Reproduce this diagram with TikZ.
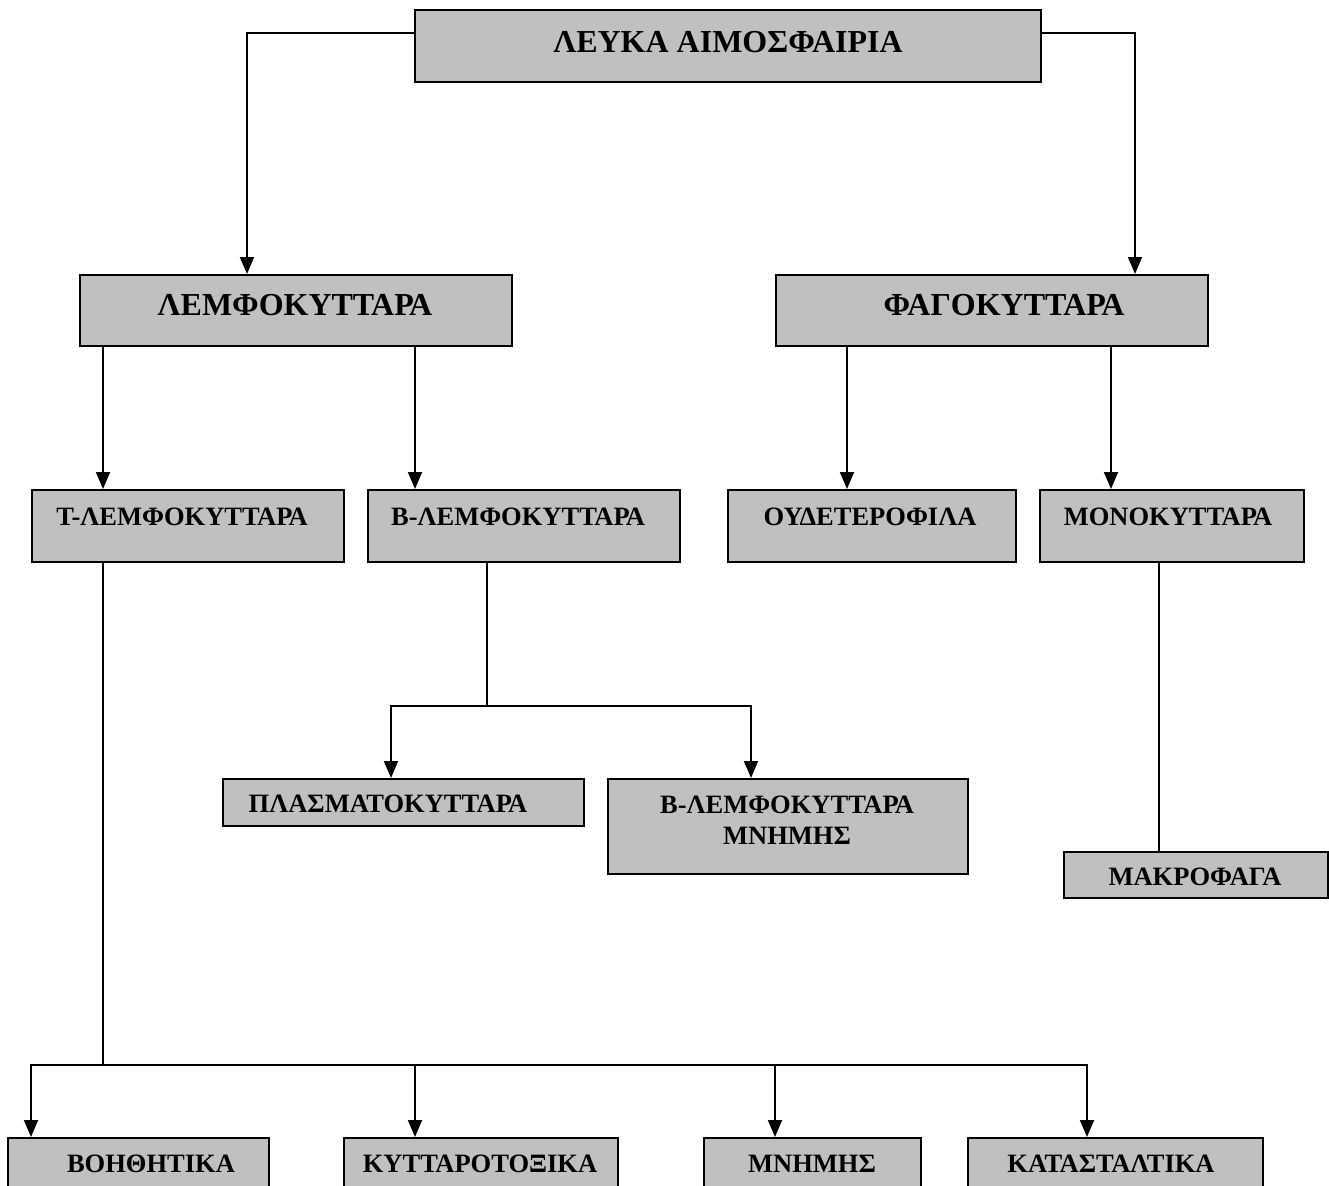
\documentclass[tikz,border=0pt]{standalone}
\usepackage{fontspec}
\setmainfont{Liberation Serif}
\usetikzlibrary{arrows.meta}
\definecolor{boxgray}{HTML}{C0C0C0}
\tikzset{
  box/.style={draw=black, fill=boxgray, line width=2.2pt, anchor=north west, inner sep=0pt},
  big/.style={font=\fontsize{32}{36}\selectfont\bfseries, inner sep=0pt},
  small/.style={font=\fontsize{26.5}{31}\selectfont\bfseries, inner sep=0pt, align=center},
  conn/.style={line width=1.9pt, draw=black},
  arr/.style={conn, -{Triangle[length=17pt,width=14pt]}}
}
\begin{document}
\begin{tikzpicture}[x=1pt,y=-1pt]
\useasboundingbox (0,0) rectangle (1329,1185);
\fill[white] (0,0) rectangle (1329,1185);
\clip (0,0) rectangle (1329,1185);
% boxes
\node[box, minimum width=626pt, minimum height=72pt] (top) at (414,9) {};
\node[box, minimum width=432pt, minimum height=71pt] (lemf) at (79,274) {};
\node[box, minimum width=432pt, minimum height=71pt] (fago) at (775,274) {};
\node[box, minimum width=312pt, minimum height=72pt] (tl) at (31,489) {};
\node[box, minimum width=312pt, minimum height=72pt] (bl) at (367,489) {};
\node[box, minimum width=288pt, minimum height=72pt] (oud) at (727,489) {};
\node[box, minimum width=264pt, minimum height=72pt] (mono) at (1039,489) {};
\node[box, minimum width=361pt, minimum height=47pt] (plasma) at (222,778) {};
\node[box, minimum width=360pt, minimum height=95pt] (blm) at (607,778) {};
\node[box, minimum width=264pt, minimum height=46pt] (makro) at (1063,851) {};
\node[box, minimum width=261pt, minimum height=70pt] (bo) at (7,1137) {};
\node[box, minimum width=274pt, minimum height=70pt] (ky) at (343,1137) {};
\node[box, minimum width=217pt, minimum height=70pt] (mn) at (703,1137) {};
\node[box, minimum width=295pt, minimum height=70pt] (ka) at (967,1137) {};
% labels
\node[big] (topt) at (728,42) {ΛΕΥΚΑ ΑΙΜΟΣΦΑΙΡΙΑ};
\node[big] (lemft) at (295,305) {ΛΕΜΦΟΚΥΤΤΑΡΑ};
\node[big] (fagot) at (1004,305) {ΦΑΓΟΚΥΤΤΑΡΑ};
\node[small] (tlt) at (182,517) {Τ-ΛΕΜΦΟΚΥΤΤΑΡΑ};
\node[small] (blt) at (518,517) {Β-ΛΕΜΦΟΚΥΤΤΑΡΑ};
\node[small] (oudt) at (870,517) {ΟΥΔΕΤΕΡΟΦΙΛΑ};
\node[small] (monot) at (1168,517) {ΜΟΝΟΚΥΤΤΑΡΑ};
\node[small] (plasmat) at (388,804) {ΠΛΑΣΜΑΤΟΚΥΤΤΑΡΑ};
\node[small] (blmt) at (787,820) {Β-ΛΕΜΦΟΚΥΤΤΑΡΑ\\ΜΝΗΜΗΣ};
\node[small] (makrot) at (1195,877) {ΜΑΚΡΟΦΑΓΑ};
\node[small] (bot) at (151,1164) {ΒΟΗΘΗΤΙΚΑ};
\node[small] (kyt) at (480,1164) {ΚΥΤΤΑΡΟΤΟΞΙΚΑ};
\node[small] (mnt) at (812,1164) {ΜΝΗΜΗΣ};
\node[small] (kat) at (1111,1164) {ΚΑΤΑΣΤΑΛΤΙΚΑ};
% helper coordinates
\coordinate (yTop) at (0,33);
\coordinate (xL) at (247,0);
\coordinate (xR) at (1135,0);
\coordinate (x103) at (103,0);
\coordinate (x415) at (415,0);
\coordinate (x847) at (847,0);
\coordinate (x1111) at (1111,0);
\coordinate (bj) at (487,706);
\coordinate (bjl) at (391,706);
\coordinate (bjr) at (751,706);
\coordinate (x1159) at (1159,0);
\coordinate (tj) at (103,1065);
\coordinate (tj1) at (31,1065);
\coordinate (tj2) at (415,1065);
\coordinate (tj3) at (775,1065);
\coordinate (tj4) at (1087,1065);
% connectors
\draw[arr] (top.west |- yTop) -| (xL |- lemf.north);
\draw[arr] (top.east |- yTop) -| (xR |- fago.north);
\draw[arr] (x103 |- lemf.south) -- (x103 |- tl.north);
\draw[arr] (x415 |- lemf.south) -- (x415 |- bl.north);
\draw[arr] (x847 |- fago.south) -- (x847 |- oud.north);
\draw[arr] (x1111 |- fago.south) -- (x1111 |- mono.north);
\draw[conn] (bj |- bl.south) -- (bj);
\draw[arr] (bj) -| (bjl |- plasma.north);
\draw[arr] (bj) -| (bjr |- blm.north);
\draw[conn] (x1159 |- mono.south) -- (x1159 |- makro.north);
\draw[conn] (tj |- tl.south) -- (tj);
\draw[arr] (tj) -| (tj1 |- bo.north);
\draw[arr] (tj) -| (tj4 |- ka.north);
\draw[arr] (tj2) -- (tj2 |- ky.north);
\draw[arr] (tj3) -- (tj3 |- mn.north);
\end{tikzpicture}
\end{document}
